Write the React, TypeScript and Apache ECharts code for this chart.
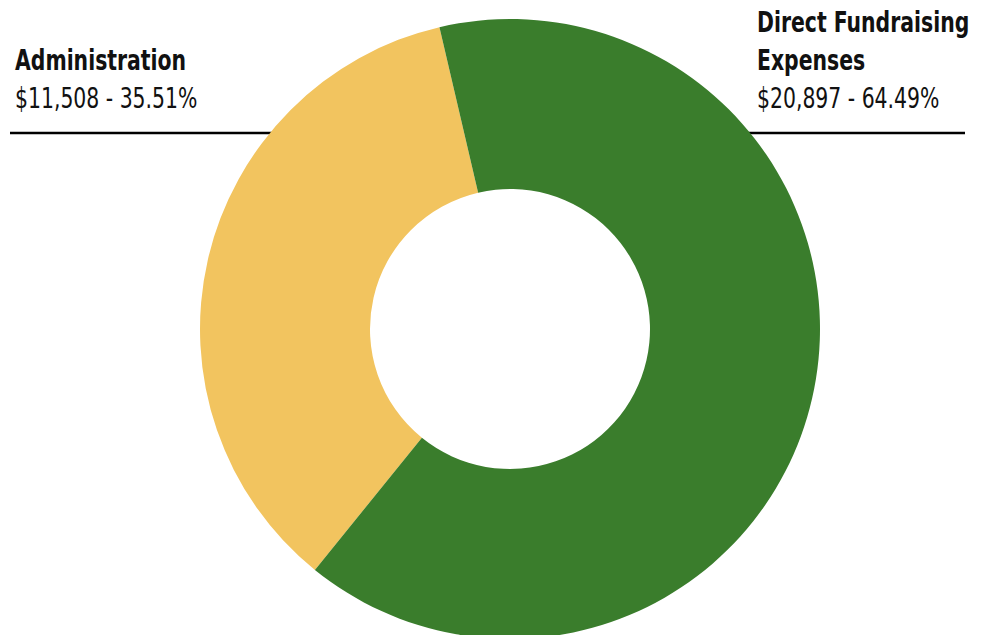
import React, { useEffect, useRef } from "react";
import * as echarts from "echarts";

const categories = ["Administration", "Direct Fundraising Expenses"];
const values = [11508, 20897];
const percents = ["35.51%", "64.49%"];
const colors = ["#f2c45f", "#3a7d2c"];
const titleLines = [["Administration"], ["Direct Fundraising", "Expenses"]];

const FONT = "'Liberation Sans Narrow', 'DejaVu Sans Condensed', 'Roboto Condensed', sans-serif";
const SX = 0.81;

function fmt(v: number) {
  return "$" + v.toLocaleString("en-US");
}

function txt(t: string, x: number, y: number, bold: boolean) {
  return {
    type: "text",
    x,
    y,
    scaleX: SX,
    z: 10,
    style: {
      text: t,
      font: `${bold ? "bold " : ""}28px ${FONT}`,
      fill: "#111",
      textAlign: "left",
      textVerticalAlign: "top",
    },
  };
}

export default function App() {
  const ref = useRef<HTMLDivElement>(null);
  useEffect(() => {
    if (!ref.current) return;
    const chart = echarts.init(ref.current, null, { renderer: "svg" });
    const graphics: any[] = [];
    const leftX = 15;
    titleLines[0].forEach((t, i) => graphics.push(txt(t, leftX, 46 + i * 38, true)));
    graphics.push(txt(`${fmt(values[0])} - ${percents[0]}`, leftX, 84, false));
    graphics.push({
      type: "line",
      z: 0,
      shape: { x1: 10, y1: 133, x2: 330, y2: 133 },
      style: { stroke: "#000", lineWidth: 2.5 },
    });
    const rightX = 757;
    titleLines[1].forEach((t, i) => graphics.push(txt(t, rightX, 8 + i * 38, true)));
    graphics.push(txt(`${fmt(values[1])} - ${percents[1]}`, rightX, 84, false));
    graphics.push({
      type: "line",
      z: 0,
      shape: { x1: 700, y1: 133, x2: 965, y2: 133 },
      style: { stroke: "#000", lineWidth: 2.5 },
    });

    chart.setOption({
      animation: false,
      graphic: { elements: graphics },
      series: [
        {
          type: "pie",
          z: 5,
          center: [510, 329],
          radius: [140, 310],
          startAngle: 231.0,
          clockwise: true,
          label: { show: false },
          labelLine: { show: false },
          itemStyle: { borderWidth: 0 },
          emphasis: { disabled: true },
          data: categories.map((c, i) => ({
            name: c,
            value: values[i],
            itemStyle: { color: colors[i] },
          })),
        },
      ],
    });
    return () => chart.dispose();
  }, []);
  return <div ref={ref} style={{ width: 985, height: 635, position: "absolute", left: 0, top: 0 }} />;
}
